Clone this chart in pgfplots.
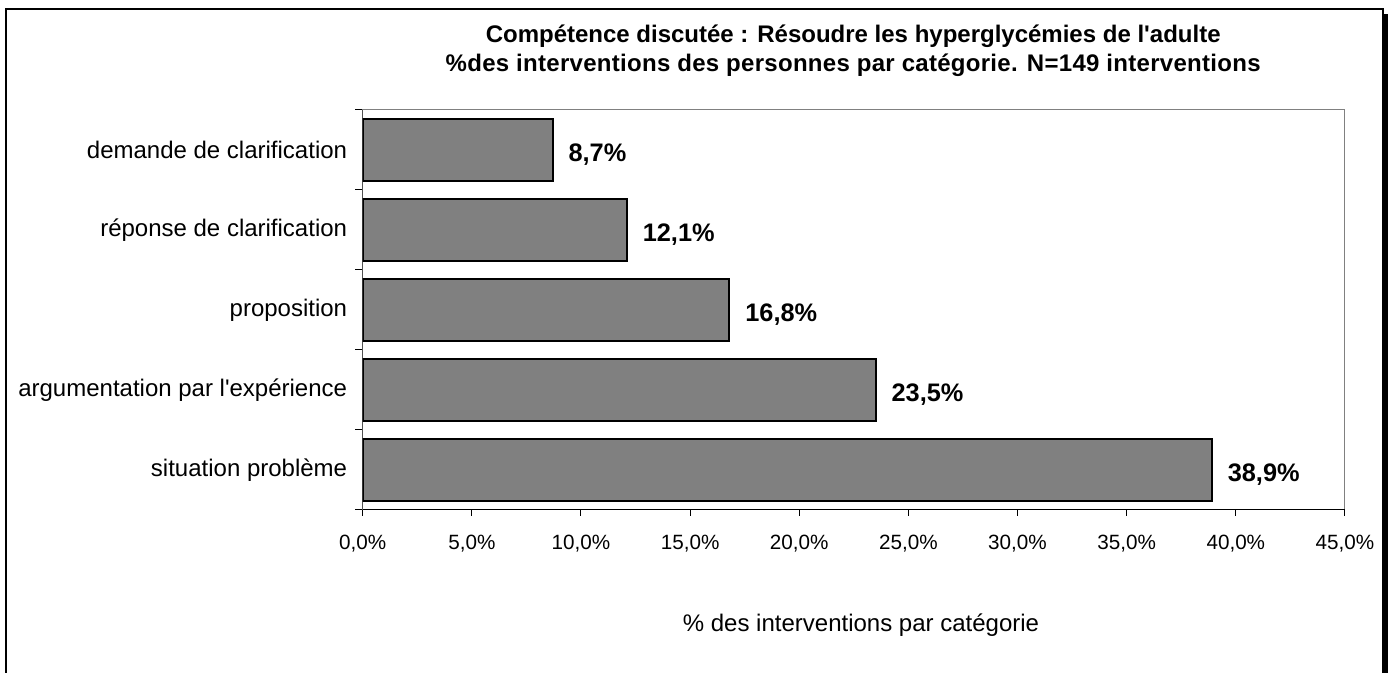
\documentclass[border=0pt]{standalone}
\usepackage{pgfplots}
\pgfplotsset{compat=1.18}
\usepackage{fontspec}
\setmainfont{Liberation Sans}
\begin{document}
\begin{tikzpicture}[x=0.75pt,y=0.75pt]
\useasboundingbox (-362.7,-163) rectangle (1031.3,510);
\fill[black] (1020.3,-170) rectangle (1025.5,496);
\draw[black,line width=1pt] (-356.7,-170) -- (-356.7,501) -- (1020.3,501) -- (1020.3,-170);
\node[anchor=base,inner sep=0pt,font=\fontsize{18}{20}\selectfont\bfseries] at (490.5,467) {Compétence discutée : Résoudre les hyperglycémies de l\textquotesingle adulte};
\node[anchor=base,inner sep=0pt,font=\fontsize{18}{20}\selectfont\bfseries\addfontfeature{LetterSpace=1.2}] at (490.5,438) {\%des interventions des personnes par catégorie. N=149 interventions};
\begin{axis}[
  at={(0,0)}, anchor=south west,
  scale only axis, width=736.7pt, height=300pt,
  xbar, bar width=0.77,
  xmin=0, xmax=45, ymin=-0.5, ymax=4.5,
  xtick={0,5,...,45},
  ytick={0,1,2,3,4},
  yticklabels={situation problème, argumentation par l\textquotesingle expérience, proposition, réponse de clarification, demande de clarification},
  minor ytick={-0.5,0.5,...,4.5},
  tick align=outside,
  tick pos=left,
  major tick length=4.5pt, minor tick length=5.5pt,
  every major y tick/.append style={draw=none},
  tick style={black, line width=0.75pt},
  axis line style={draw=gray, line width=0.75pt},
  /pgf/number format/assume math mode=true,
  xticklabel={\pgfmathprintnumber[fixed,fixed zerofill,precision=1,use comma]{\tick}\%},
  xticklabel style={font=\fontsize{15.5}{18}\selectfont, anchor=north, inner sep=0pt, yshift=-14pt},
  yticklabel style={font=\fontsize{18}{20}\selectfont, anchor=east, inner sep=0pt, xshift=-7pt},
  xlabel={\% des interventions par catégorie},
  xlabel style={at={(axis description cs:0.5073,0)}, anchor=base, inner sep=0pt, yshift=-91.5pt, font=\fontsize{18}{20}\selectfont},
  point meta=x,
  nodes near coords={\pgfmathprintnumber[fixed,fixed zerofill,precision=1,use comma]{\pgfplotspointmeta}\%},
  nodes near coords style={anchor=base west, inner sep=0pt, xshift=11.25pt, yshift=-9pt, font=\fontsize{19}{21}\selectfont\bfseries},
]
\addplot[xbar, fill=gray, draw=black, line width=1.5pt] coordinates {(38.9,0) (23.5,1) (16.8,2) (12.1,3) (8.7,4)};
\draw[black, line width=0.75pt] (rel axis cs:0,1) -- (rel axis cs:0,0) -- (rel axis cs:1,0);
\end{axis}
\end{tikzpicture}
\end{document}
